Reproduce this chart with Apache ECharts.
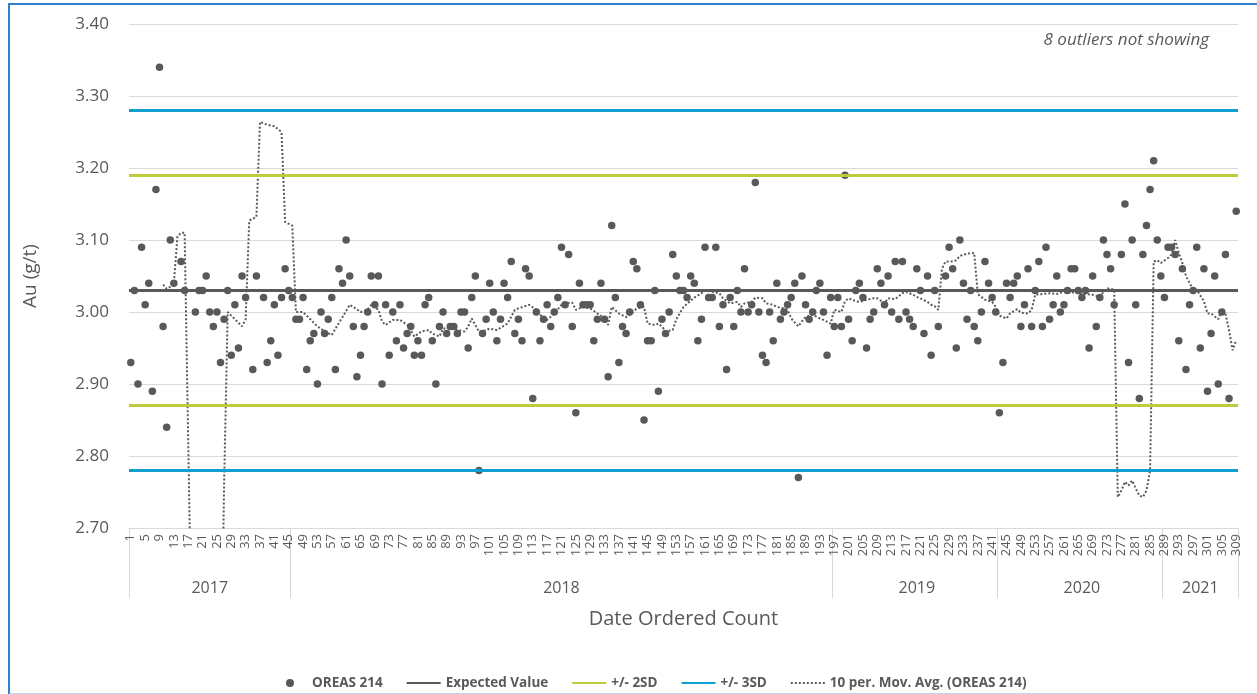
<!DOCTYPE html>
<html><head><meta charset="utf-8">
<script src="https://cdn.jsdelivr.net/npm/echarts@6/dist/echarts.min.js"></script>
<style>
html,body{margin:0;padding:0;background:#fff;overflow:hidden;}
#chart{position:absolute;left:0;top:0;width:1257px;height:694px;}
#frame{position:absolute;left:8px;top:3px;width:1260px;height:688px;border-left:2px solid #2F7FD0;border-top:2px solid #2F7FD0;border-bottom:2px solid #BDD7EE;pointer-events:none;}
</style></head><body>
<div id="chart"></div><div id="frame"></div>
<script>
// Date-ordered count categories 1..309
const counts = Array.from({length: 309}, (_, i) => String(i + 1));

// Au (g/t) results for OREAS 214 (null = outlier not showing)
const auValues = [
  2.93,3.03,2.90,3.09,3.01,3.04,2.89,3.17,3.34,2.98,
  2.84,3.10,3.04,null,3.07,3.03,null,null,3.00,3.03,
  3.03,3.05,3.00,2.98,3.00,2.93,2.99,3.03,2.94,3.01,
  2.95,3.05,3.02,null,2.92,3.05,null,3.02,2.93,2.96,
  3.01,2.94,3.02,3.06,3.03,3.02,2.99,2.99,3.02,2.92,
  2.96,2.97,2.90,3.00,2.97,2.99,3.02,2.92,3.06,3.04,
  3.10,3.05,2.98,2.91,2.94,2.98,3.00,3.05,3.01,3.05,
  2.90,3.01,2.94,3.00,2.96,3.01,2.95,2.97,2.98,2.94,
  2.96,2.94,3.01,3.02,2.96,2.90,2.98,3.00,2.97,2.98,
  2.98,2.97,3.00,3.00,2.95,3.02,3.05,2.78,2.97,2.99,
  3.04,3.00,2.96,2.99,3.04,3.02,3.07,2.97,2.99,2.96,
  3.06,3.05,2.88,3.00,2.96,2.99,3.01,2.98,3.00,3.02,
  3.09,3.01,3.08,2.98,2.86,3.04,3.01,3.01,3.01,2.96,
  2.99,3.04,2.99,2.91,3.12,3.02,2.93,2.98,2.97,3.00,
  3.07,3.06,3.01,2.85,2.96,2.96,3.03,2.89,2.99,2.97,
  3.00,3.08,3.05,3.03,3.03,3.02,3.05,3.04,2.96,2.99,
  3.09,3.02,3.02,3.09,2.98,3.01,2.92,3.02,2.98,3.03,
  3.00,3.06,3.00,3.01,3.18,3.00,2.94,2.93,3.00,2.96,
  3.04,2.99,3.00,3.01,3.02,3.04,2.77,3.05,3.01,2.99,
  3.00,3.03,3.04,3.00,2.94,3.02,2.98,3.02,2.98,3.19,
  2.99,2.96,3.03,3.04,3.02,2.95,2.99,3.00,3.06,3.04,
  3.01,3.05,3.00,3.07,2.99,3.07,3.00,2.99,2.98,3.06,
  3.03,2.97,3.05,2.94,3.03,2.98,null,3.05,3.09,3.06,
  2.95,3.10,3.04,2.99,3.03,2.98,2.96,3.00,3.07,3.04,
  3.02,3.00,2.86,2.93,3.04,3.02,3.04,3.05,2.98,3.01,
  3.06,2.98,3.03,3.07,2.98,3.09,2.99,3.01,3.05,3.00,
  3.01,3.03,3.06,3.06,3.03,3.02,3.03,2.95,3.05,2.98,
  3.02,3.10,3.08,3.06,3.01,null,3.08,3.15,2.93,3.10,
  3.01,2.88,3.08,3.12,3.17,3.21,3.10,3.05,3.02,3.09,
  3.09,3.08,2.96,3.06,2.92,3.01,3.03,3.09,2.95,3.06,
  2.89,2.97,3.05,2.90,3.00,3.08,2.88,null,3.14
];

// 10 period moving average, read at these counts
const maCount = [10,11,12,13,14,15,16,18,26,27,28,30,32,33,34,36,37,39,41,43,44,46,47,49,51,53,55,57,59,60,
  62,63,65,67,68,70,71,72,74,76,78,79,80,82,84,85,87,88,90,92,94,95,96,98,99,101,103,106,108,109,
  112,114,115,117,119,121,122,124,125,127,129,131,133,134,135,137,139,140,142,144,145,147,148,149,150,152,153,155,158,160,
  161,163,165,166,168,170,171,172,174,175,177,178,180,181,183,184,185,187,188,189,191,193,194,196,197,199,200,201,203,204,
  206,208,209,211,212,214,216,217,219,220,221,223,224,225,226,227,228,230,231,232,234,236,237,238,239,241,242,243,245,246,
  248,249,251,252,253,255,257,259,260,262,264,265,267,269,271,272,273,275,276,277,278,279,280,281,282,283,284,285,286,287,
  288,290,291,292,293,294,295,297,298,300,301,302,304,305,306,307,308,309];
const maValue = [3.038,3.032,3.035,3.040,3.105,3.110,3.110,2.530,2.450,2.760,3.000,2.990,2.980,2.990,3.127,3.132,3.264,3.260,3.258,3.250,3.125,3.120,3.000,3.000,2.990,2.980,2.973,2.968,2.985,2.993,
  3.010,3.007,3.000,3.003,3.010,3.003,2.987,2.982,2.989,2.989,2.982,2.975,2.966,2.973,2.975,2.970,2.966,2.977,2.977,2.975,2.973,2.980,2.991,2.973,2.973,2.977,2.975,2.984,3.003,3.005,
  3.010,3.003,2.996,2.989,2.998,3.010,3.012,3.013,3.003,3.007,3.005,2.998,2.991,2.982,3.007,2.998,2.993,2.996,3.005,3.007,2.984,2.982,2.984,2.980,2.973,2.975,2.990,3.007,3.020,3.026,
  3.030,3.028,3.026,3.019,3.012,3.014,3.007,3.012,3.014,3.020,3.019,3.012,3.010,3.007,3.005,3.003,2.991,2.980,2.987,2.993,2.996,2.991,2.989,2.984,3.003,3.000,3.015,3.019,3.015,3.014,
  3.017,3.019,3.019,3.012,3.019,3.018,3.026,3.028,3.024,3.021,3.019,3.014,3.010,3.008,3.003,3.060,3.070,3.070,3.072,3.078,3.081,3.082,3.025,3.021,3.017,3.014,3.007,2.995,2.991,2.998,
  3.004,2.999,2.998,3.003,3.024,3.025,3.026,3.025,3.027,3.028,3.027,3.026,3.025,3.024,3.021,3.028,3.033,3.031,2.743,2.752,2.764,2.759,2.766,2.755,2.745,2.743,2.752,2.780,3.070,3.072,
  3.068,3.075,3.080,3.100,3.082,3.068,3.050,3.031,3.031,3.015,2.998,2.998,2.990,3.003,2.998,2.975,2.947,2.961];

// control limits
const expectedValue = 3.03;
const sd2Limits = [3.194, 2.866];
const sd3Limits = [3.276, 2.784];

// y axis ticks
const yMin = 2.70, yMax = 3.40, yStep = 0.10;

// year groups: first count of each year
const years = ['2017', '2018', '2019', '2020', '2021'];
const yearFirstCount = [1, 46, 197, 243, 289];

// derived layout helpers (indices into categories)
const boundaryIdx = yearFirstCount.map(c => c - 1);
const yearCenterIdx = {};
yearFirstCount.forEach((c, k) => {
  const last = k + 1 < yearFirstCount.length ? yearFirstCount[k + 1] - 1 : counts.length;
  yearCenterIdx[Math.floor((c - 1 + last - 1) / 2 + 0.5)] = years[k];
});

const FONT = '"Open Sans", "Noto Sans", sans-serif';
const GREY = '#595959';
const C2 = '#BFCA3C', C3 = '#0E9ECF';
const hideSym = {opacity: 0};

const chart = echarts.init(document.getElementById('chart'), null, {renderer: 'canvas'});
chart.setOption({
  animation: false,
  textStyle: {fontFamily: FONT},
  grid: {left: 129, right: 19, top: 24, bottom: 166, containLabel: false},
  legend: {
    left: 281, top: 671, itemWidth: 34, itemHeight: 8, itemGap: 23,
    textStyle: {color: GREY, fontSize: 13.5, fontWeight: 'bold', fontFamily: FONT},
    data: [
      {name: 'OREAS 214', icon: 'circle'},
      {name: 'Expected Value', itemStyle: hideSym},
      {name: '+/- 2SD', itemStyle: hideSym},
      {name: '+/- 3SD', itemStyle: hideSym},
      {name: '10 per. Mov. Avg. (OREAS 214)', itemStyle: hideSym}
    ]
  },
  graphic: [{
    type: 'text', right: 48, top: 32,
    style: {text: '8 outliers not showing', font: 'italic 17px ' + FONT, fill: GREY}
  }],
  xAxis: [{
    type: 'category', data: counts, boundaryGap: true,
    axisLine: {show: true, lineStyle: {color: '#D9D9D9', width: 1}},
    axisTick: {show: false},
    axisLabel: {rotate: 90, interval: 3, fontSize: 13, color: GREY, margin: 6, fontFamily: FONT},
    splitLine: {show: false}
  }, {
    type: 'category', data: counts, boundaryGap: true, position: 'bottom',
    axisLine: {show: false},
    axisTick: {show: true, length: 70, interval: (idx) => boundaryIdx.indexOf(idx) >= 0,
               lineStyle: {color: '#D9D9D9', width: 1}},
    axisLabel: {interval: 0, margin: 52, fontSize: 16, color: GREY, fontFamily: FONT,
                formatter: (v, idx) => yearCenterIdx[idx] || ''},
    name: 'Date Ordered Count', nameLocation: 'middle', nameGap: 81,
    nameTextStyle: {fontSize: 20, color: GREY, fontFamily: FONT},
    splitLine: {show: false}
  }],
  yAxis: {
    type: 'value', min: yMin, max: yMax, interval: yStep,
    axisLine: {show: false}, axisTick: {show: false},
    axisLabel: {fontSize: 17, color: GREY, margin: 20, fontFamily: FONT, formatter: v => v.toFixed(2)},
    splitLine: {lineStyle: {color: '#D9D9D9', width: 1}},
    name: 'Au (g/t)', nameLocation: 'middle', nameGap: 89,
    nameTextStyle: {fontSize: 19, color: GREY, fontFamily: FONT}
  },
  series: [
    {
      name: 'Expected Value', type: 'line', data: [], symbol: 'none',
      itemStyle: {color: GREY}, lineStyle: {color: GREY, width: 3}, z: 2,
      markLine: {silent: true, symbol: 'none', label: {show: false},
        lineStyle: {color: GREY, width: 3, type: 'solid'}, emphasis: {disabled: true},
        data: [{yAxis: expectedValue}]}
    },
    {
      name: '+/- 2SD', type: 'line', data: [], symbol: 'none',
      itemStyle: {color: C2}, lineStyle: {color: C2, width: 3}, z: 2,
      markLine: {silent: true, symbol: 'none', label: {show: false},
        lineStyle: {color: C2, width: 3, type: 'solid'}, emphasis: {disabled: true},
        data: sd2Limits.map(v => ({yAxis: v}))}
    },
    {
      name: '+/- 3SD', type: 'line', data: [], symbol: 'none',
      itemStyle: {color: C3}, lineStyle: {color: C3, width: 3}, z: 2,
      markLine: {silent: true, symbol: 'none', label: {show: false},
        lineStyle: {color: C3, width: 3, type: 'solid'}, emphasis: {disabled: true},
        data: sd3Limits.map(v => ({yAxis: v}))}
    },
    {
      name: '10 per. Mov. Avg. (OREAS 214)', type: 'line', symbol: 'none', showSymbol: false,
      clip: true, z: 3,
      data: maCount.map((c, k) => [c - 1, maValue[k]]),
      itemStyle: {color: GREY},
      lineStyle: {color: GREY, width: 2, type: [2, 2]}
    },
    {
      name: 'OREAS 214', type: 'scatter', symbol: 'circle', symbolSize: 7.5, z: 4,
      data: auValues.map(v => v === null ? '-' : v),
      itemStyle: {color: GREY, opacity: 1}
    }
  ]
});
</script>
</body></html>
